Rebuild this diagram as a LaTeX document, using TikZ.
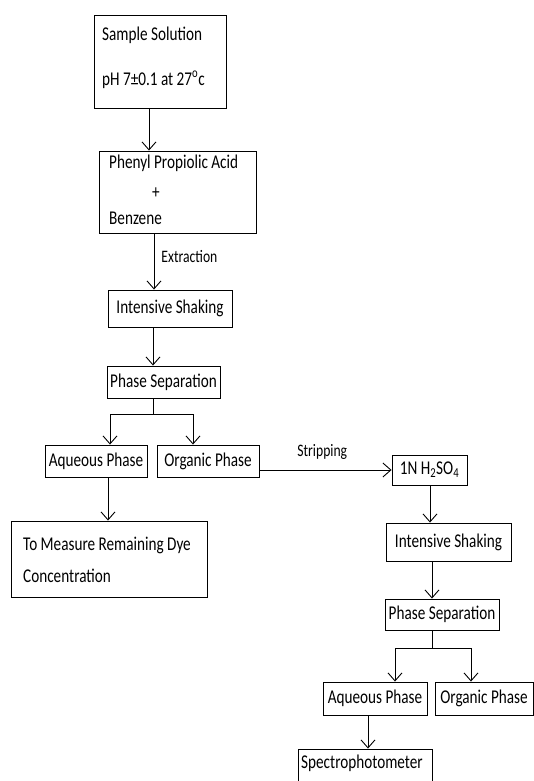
\documentclass[tikz,border=0pt]{standalone}
\usepackage{fontspec}
\setmainfont[FakeStretch=0.78]{Carlito}
\usetikzlibrary{arrows.meta}
\begin{document}
\begin{tikzpicture}[x=1pt,y=-1pt,
  box/.style={draw=black,line width=0.9pt,rectangle,inner sep=0pt,font=\fontsize{19.5}{23}\selectfont},
  txt/.style={inner sep=0pt,anchor=west,font=\fontsize{19.5}{23}\selectfont},
  lbl/.style={inner sep=0pt,font=\fontsize{17.5}{20}\selectfont},
  ln/.style={line width=0.9pt,draw=black},
  arr/.style={ln,-{Straight Barb[length=8pt,width=14pt,line width=0.9pt]}}]
\useasboundingbox (0,0) rectangle (534,781);
\clip (0,0) rectangle (534,781);
% boxes
\node[box,minimum width=132pt,minimum height=93pt] (s1) at (160,61.5) {};
\node[txt] (t1a) at (102,35) {Sample Solution};
\node[txt] (t1b) at (102,80) {pH 7±0.1 at 27\textsuperscript{o}c};
\node[box,minimum width=157pt,minimum height=82pt] (s2) at (177.5,192) {};
\node[txt] (t2a) at (109,163) {Phenyl Propiolic Acid};
\node[inner sep=0pt,font=\fontsize{19.5}{23}\selectfont] (t2b) at (156,193) {+};
\node[txt] (t2c) at (109,218) {Benzene};
\node[box,minimum width=124pt,minimum height=37pt] (s3) at (170,308.5) {Intensive Shaking};
\node[box,minimum width=113pt,minimum height=32pt] (s4) at (163.5,382) {Phase Separation};
\node[box,minimum width=102pt,minimum height=32pt] (s5) at (96,461) {Aqueous Phase};
\node[box,minimum width=102pt,minimum height=32pt] (s6) at (208,461) {Organic Phase};
\node[box,minimum width=196pt,minimum height=76pt] (s7) at (109,559) {};
\node[txt] (t7a) at (23,545) {To Measure Remaining Dye};
\node[txt] (t7b) at (23,576) {Concentration};
\node[box,minimum width=75pt,minimum height=30pt] (s8) at (429.5,470) {1N H\textsubscript{2}SO\textsubscript{4}};
\node[box,minimum width=125pt,minimum height=38pt] (s9) at (448.5,542) {Intensive Shaking};
\node[box,minimum width=114pt,minimum height=31pt] (s10) at (442,614.5) {Phase Separation};
\node[box,minimum width=104pt,minimum height=33pt] (s11) at (375,698.5) {Aqueous Phase};
\node[box,minimum width=98pt,minimum height=33pt] (s12) at (484,698.5) {Organic Phase};
\node[box,minimum width=134pt,minimum height=41pt] (s13) at (365,769.5) {};
\node[txt] (t13) at (301,763) {Spectrophotometer};
% connector helper coordinates
\coordinate (a1) at (149,108);
\coordinate (a2) at (154,233);
\coordinate (a3) at (153,327);
\coordinate (b1) at (153,414);
\coordinate (b1l) at (110,414);
\coordinate (b1r) at (193,414);
\coordinate (a5) at (108,477);
\coordinate (st) at (259,470);
\coordinate (a8) at (430,485);
\coordinate (a9) at (432,561);
\coordinate (b2) at (432,648);
\coordinate (b2l) at (395,648);
\coordinate (b2r) at (471,648);
\coordinate (a11) at (368,715);
% connectors
\draw[arr] (a1) -- (a1 |- s2.north);
\draw[arr] (a2) -- (a2 |- s3.north) node[lbl,pos=0.42,right=7pt] (ext) {Extraction};
\draw[arr] (a3) -- (a3 |- s4.north);
\draw[ln] (b1 |- s4.south) -- (b1);
\draw[ln] (b1l) -- (b1r);
\draw[arr] (b1l) -- (b1l |- s5.north);
\draw[arr] (b1r) -- (b1r |- s6.north);
\draw[arr] (a5) -- (a5 |- s7.north);
\draw[arr] (st) -- (s8.west) node[lbl,midway,above=10pt,xshift=-3pt] (strip) {Stripping};
\draw[arr] (a8) -- (a8 |- s9.north);
\draw[arr] (a9) -- (a9 |- s10.north);
\draw[ln] (b2 |- s10.south) -- (b2);
\draw[ln] (b2l) -- (b2r);
\draw[arr] (b2l) -- (b2l |- s11.north);
\draw[arr] (b2r) -- (b2r |- s12.north);
\draw[arr] (a11) -- (a11 |- s13.north);
\end{tikzpicture}
\end{document}
